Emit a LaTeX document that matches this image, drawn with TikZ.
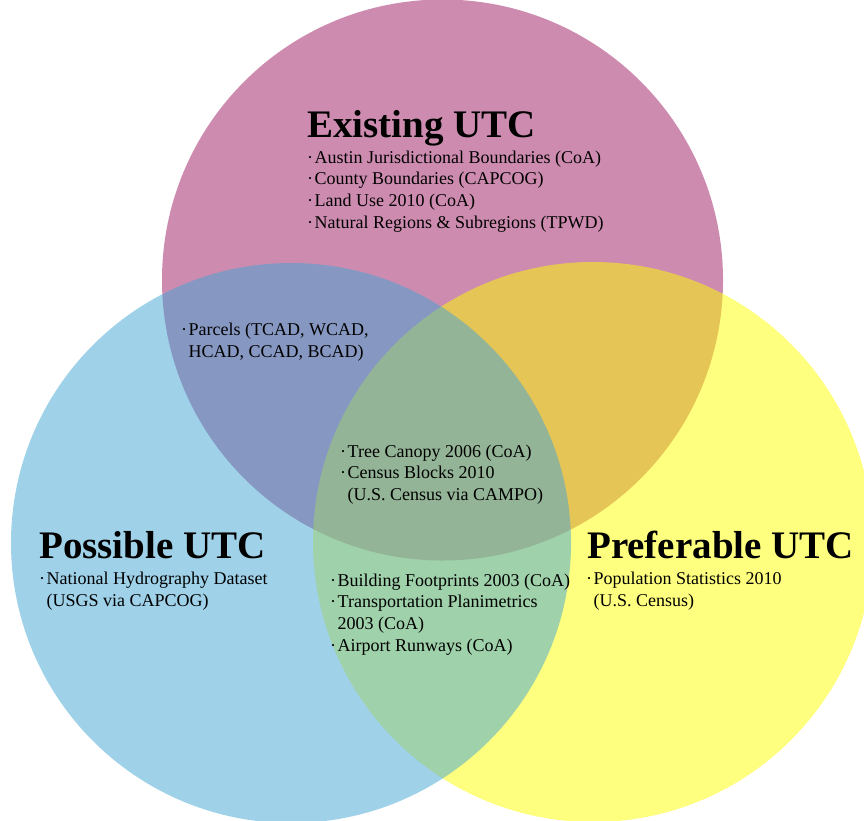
\documentclass[tikz,border=0pt]{standalone}
\usepackage{fontspec}
\setmainfont{Liberation Serif}
\begin{document}
\definecolor{exPink}{RGB}{205,140,175}
\definecolor{prYellow}{RGB}{255,255,1}
\definecolor{poBlue}{RGB}{65,165,213}
\newcommand\bul{\makebox[7.5pt][l]{·}}
\newcommand\cont{\hspace*{7.5pt}}
\begin{tikzpicture}[x=1pt,y=-1pt,
  heading/.style={inner sep=0pt,anchor=base west,font=\fontsize{39}{44}\selectfont\bfseries},
  % multi-line blocks: the base anchor sits on the last line
  items/.style={inner sep=0pt,anchor=base west,align=left,font=\fontsize{18}{21.8}\selectfont}]
  \useasboundingbox[fill=white] (0,0) rectangle (864,820);
  \begin{scope}
    \clip (0,0) rectangle (864,820);
    % three overlapping circles, pink at the bottom, then yellow, then blue
    \fill[exPink] (442.5,280) circle (280.5pt);
    \fill[prYellow,fill opacity=0.5] (593,542) circle (280pt);
    \fill[poBlue,fill opacity=0.5] (291,543) circle (280pt);
  \end{scope}

  % headings
  \node[heading] (exTitle) at (307,137) {Existing UTC};
  \node[heading] (poTitle) at (39,558) {Possible UTC};
  \node[heading] (prTitle) at (587,558) {Preferable UTC};

  % data sources
  \node[items] (exList) at (307,228.4) {\bul Austin Jurisdictional Boundaries (CoA)\\
    \bul County Boundaries (CAPCOG)\\
    \bul Land Use 2010 (CoA)\\
    \bul Natural Regions \& Subregions (TPWD)};
  \node[items] (exPo) at (181,357) {\bul Parcels (TCAD, WCAD,\\
    \cont HCAD, CCAD, BCAD)};
  \node[items] (allThree) at (340,500.6) {\bul Tree Canopy 2006 (CoA)\\
    \bul Census Blocks 2010\\
    \cont (U.S. Census via CAMPO)};
  \node[items] (poList) at (39,606) {\bul National Hydrography Dataset\\
    \cont (USGS via CAPCOG)};
  \node[items] (poPr) at (330,651.4) {\bul Building Footprints 2003 (CoA)\\
    \bul Transportation Planimetrics\\
    \cont 2003 (CoA)\\
    \bul Airport Runways (CoA)};
  \node[items] (prList) at (586,606) {\bul Population Statistics 2010\\
    \cont (U.S. Census)};
\end{tikzpicture}
\end{document}
